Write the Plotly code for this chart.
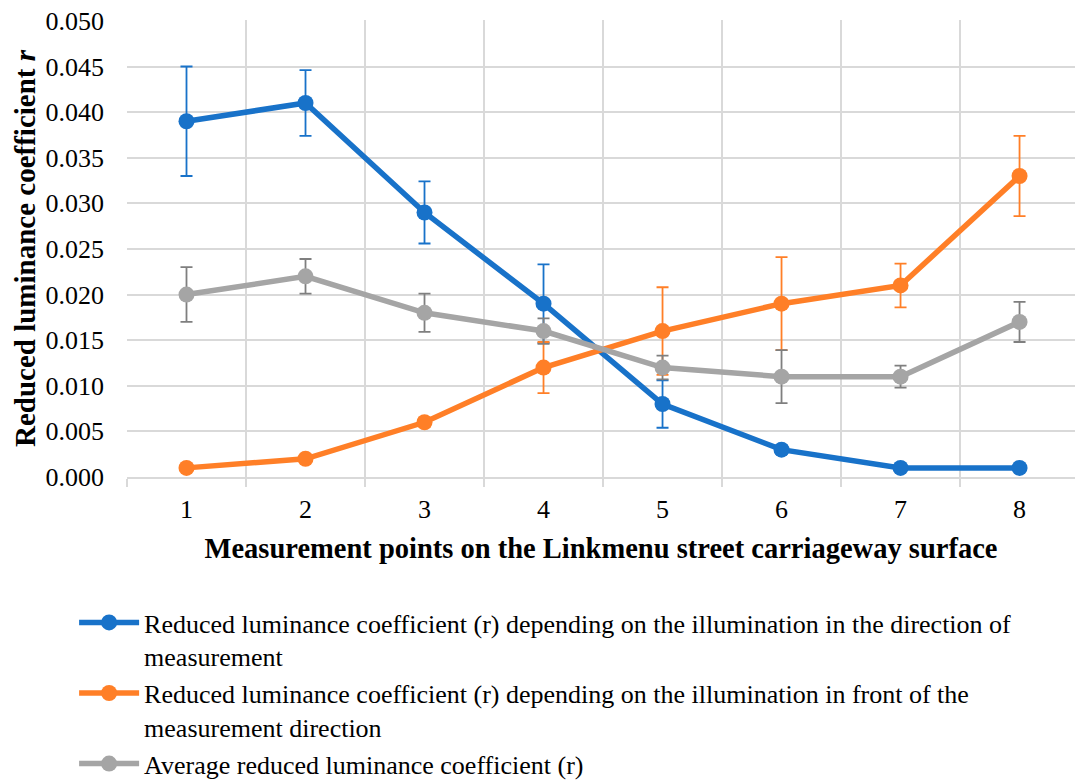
import plotly.graph_objects as go

points = [1, 2, 3, 4, 5, 6, 7, 8]
y_ticks = [0.000, 0.005, 0.010, 0.015, 0.020, 0.025, 0.030, 0.035, 0.040, 0.045, 0.050]

r_direction = [0.039, 0.041, 0.029, 0.019, 0.008, 0.003, 0.001, 0.001]
r_direction_err = [0.0060, 0.0036, 0.0034, 0.0043, 0.0026, 0.0005, 0.0, 0.0]

r_front = [0.001, 0.002, 0.006, 0.012, 0.016, 0.019, 0.021, 0.033]
r_front_err = [0.0, 0.0, 0.0005, 0.0028, 0.0048, 0.0051, 0.0024, 0.0044]

r_average = [0.020, 0.022, 0.018, 0.016, 0.012, 0.011, 0.011, 0.017]
r_average_err = [0.0030, 0.0019, 0.0021, 0.0014, 0.0013, 0.0029, 0.0012, 0.0022]

names = [
    "Reduced luminance coefficient (r) depending on the illumination in the direction of<br>measurement",
    "Reduced luminance coefficient (r) depending on the illumination in front of the<br>measurement direction",
    "Average reduced luminance coefficient (r)",
]

BLUE = "#1872C9"
ORANGE = "#FF7F27"
GRAY = "#A5A5A5"
FONT = "Liberation Serif, Times New Roman, serif"

fig = go.Figure()
for y, err, name, color, ecolor in [
    (r_direction, r_direction_err, names[0], BLUE, BLUE),
    (r_front, r_front_err, names[1], ORANGE, ORANGE),
    (r_average, r_average_err, names[2], GRAY, "#7F7F7F"),
]:
    fig.add_trace(go.Scatter(
        x=points, y=y, name=name, mode="lines+markers",
        line=dict(color=color, width=5.5),
        marker=dict(color=color, size=16),
        error_y=dict(type="data", array=err, visible=True, color=ecolor,
                     thickness=1.8, width=6),
    ))

fig.update_layout(
    width=1075, height=784,
    margin=dict(l=127, r=0, t=20, b=307, autoexpand=False),
    paper_bgcolor="white", plot_bgcolor="white",
    font=dict(family=FONT, size=26, color="#000000"),
    showlegend=True,
    legend=dict(
        orientation="v", x=-0.0558, xanchor="left",
        yref="container", y=0.236, yanchor="top",
        valign="top", tracegroupgap=8, itemwidth=60,
        font=dict(size=26, family=FONT, color="#000000"),
        bgcolor="rgba(0,0,0,0)",
    ),
)
fig.update_xaxes(
    range=[0.5, 8.466], tickvals=points, ticktext=[str(p) for p in points],
    tickfont=dict(family=FONT, size=26),
    showgrid=False, zeroline=False,
    showline=True, linecolor="#D9D9D9", linewidth=1.5,
    ticks="", ticklabelstandoff=8,
    minor=dict(tick0=0.5, dtick=1, showgrid=True, gridcolor="#D9D9D9", gridwidth=1.5,
               ticks="outside", ticklen=8, tickcolor="#D9D9D9", tickwidth=1.5),
    title=dict(text="<b>Measurement points on the Linkmenu street carriageway surface</b>",
               font=dict(size=28.5, family=FONT), standoff=15),
)
fig.update_yaxes(
    range=[0, 0.0501], tickvals=y_ticks, tickformat=".3f",
    tickfont=dict(family=FONT, size=26),
    showgrid=True, gridcolor="#D9D9D9", gridwidth=1.5, zeroline=False,
    showline=False, ticks="", ticklabelstandoff=22,
    title=dict(text="<b>Reduced luminance coefficient <i>r</i></b>",
               font=dict(size=29, family=FONT), standoff=1),
)

# drop the default 8px page margin so the figure sits at the window corner
fig.write_html("out.html", config={"displayModeBar": False},
               post_script="document.body.style.margin='0';")
